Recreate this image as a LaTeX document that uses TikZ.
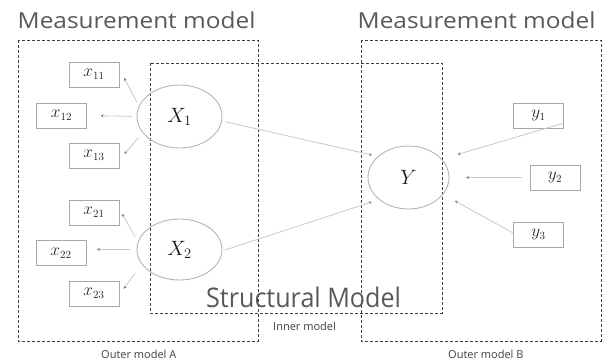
\documentclass[tikz,border=0pt]{standalone}
\usepackage{fontspec}
\setmainfont{Open Sans}
\newfontfamily\widetitle[FakeStretch=1.11]{Open Sans}
\newfontfamily\narrowtitle[FakeStretch=0.93]{Open Sans}
\usetikzlibrary{arrows.meta,shapes.geometric}
\definecolor{boxgray}{HTML}{A8A8A8}
\definecolor{ellgray}{HTML}{B4B4B4}
\definecolor{linegray}{HTML}{C8C8C8}
\definecolor{tipgray}{HTML}{808080}
\definecolor{dashgray}{HTML}{404040}
\definecolor{bigtext}{HTML}{595959}
\definecolor{smalltext}{HTML}{404040}
\tikzset{
  obsbox/.style={draw=boxgray, line width=0.9pt, minimum width=50pt, minimum height=25pt,
    inner sep=0pt, outer sep=0pt, font=\fontsize{16}{18}\selectfont, text=black!85},
  latent/.style={ellipse, draw=ellgray, line width=0.9pt, minimum width=85pt, minimum height=63pt,
    inner sep=0pt, outer sep=0pt, font=\fontsize{20}{22}\selectfont, text=black!90},
  region/.style={draw=dashgray, line width=1pt, dash pattern=on 3pt off 2pt},
  arr/.style={draw=linegray, line width=0.8pt, -{Stealth[length=3pt,width=3pt,color=tipgray]}},
  bigtitle/.style={font=\widetitle\fontsize{22}{24}\selectfont, text=bigtext, inner sep=0pt},
  smalllab/.style={font=\fontsize{11}{13}\selectfont, text=smalltext, inner sep=0pt}
}
\begin{document}
\begin{tikzpicture}[x=1pt,y=-1pt]
\useasboundingbox (0,0) rectangle (603,364);
% dashed regions
\draw[region] (18,40) rectangle (258,341);
\draw[region] (150,63) rectangle (442,313);
\draw[region] (361,40) rectangle (601,341);
% titles
\node[bigtitle, anchor=base west] (mA) at (17.5,28.3) {Measurement model};
\node[bigtitle, anchor=base west] (mB) at (357.5,28.3) {Measurement model};
\node[bigtitle, font=\narrowtitle\fontsize{27}{30}\selectfont, anchor=base west] (sm) at (206,307) {Structural Model};
\node[smalllab, anchor=base west] (inner) at (273,330.7) {Inner model};
\node[smalllab, anchor=base west] (oA) at (101,358.3) {Outer model A};
\node[smalllab, anchor=base west] (oB) at (448,358.3) {Outer model B};
% observed
\node[obsbox] (x11) at (94,74.5) {$x_{11}$};
\node[obsbox] (x12) at (61.5,115.5) {$x_{12}$};
\node[obsbox] (x13) at (94,155.5) {$x_{13}$};
\node[obsbox] (x21) at (94,212.5) {$x_{21}$};
\node[obsbox] (x22) at (61,253) {$x_{22}$};
\node[obsbox] (x23) at (94,293.5) {$x_{23}$};
\node[obsbox] (y1) at (538.5,115.5) {$y_1$};
\node[obsbox] (y2) at (555,177.5) {$y_2$};
\node[obsbox] (y3) at (538.5,234.5) {$y_3$};
% latent
\node[latent] (X1) at (179.5,116.5) {$X_1$};
\node[latent, minimum height=61pt] (X2) at (179.5,249.5) {$X_2$};
\node[latent, minimum width=81pt] (Y) at (408.5,177.5) {$Y$};
% connectors
\draw[arr, shorten <=5pt, shorten >=11pt] (X1.166) -- (x11.14);
\draw[arr, shorten <=5.5pt, shorten >=14pt] (X1.180) -- (x12.east);
\draw[arr, shorten <=7pt, shorten >=8pt] (X1.204) -- (x13.-10);
\draw[arr, shorten <=6pt, shorten >=6pt] (X2.170) -- (x21.9);
\draw[arr, shorten <=7pt, shorten >=11pt] (X2.180) -- (x22.8);
\draw[arr, shorten <=11.5pt, shorten >=8pt] (X2.201) -- (x23.-4);
\draw[arr, shorten <=3.3pt, shorten >=6.5pt] (X1.-6) -- (Y.145);
\draw[arr, shorten <=3pt, shorten >=8pt] (X2.-2) -- (Y.217);
\draw[arr, shorten >=16.8pt] (y1.-17) -- (Y.29);
\draw[arr, shorten <=8pt, shorten >=17pt] (y2.west) -- (Y.east);
\draw[arr, shorten >=13.8pt] (y3.177) -- (Y.-26);
\end{tikzpicture}
\end{document}
